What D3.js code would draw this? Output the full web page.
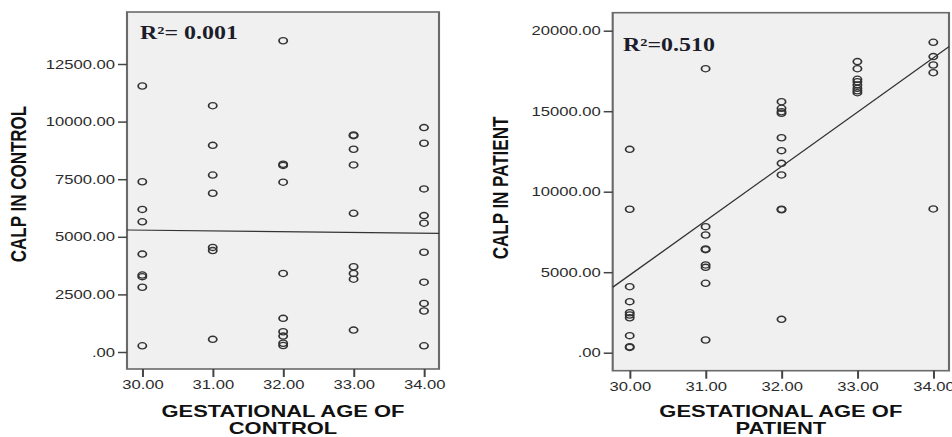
<!DOCTYPE html>
<html>
<head>
<meta charset="utf-8">
<script src="https://cdn.jsdelivr.net/npm/d3@7"></script>
<style>
  html, body { margin: 0; padding: 0; background: #fff; }
  svg { display: block; }
</style>
</head>
<body>
<script>
// gestational age groups (x) and CALP values
var ages = [30, 31, 32, 33, 34];

var controlCalp = [
  [11545, 7390, 6190, 5650, 4250, 3340, 3270, 2810, 270],
  [10690, 8970, 7680, 6890, 4540, 4400, 550],
  [13510, 8150, 8100, 7370, 3410, 1460, 880, 690, 380, 280],
  [9420, 9390, 8800, 8120, 6020, 3700, 3410, 3160, 950],
  [9740, 9060, 7080, 5920, 5590, 4330, 3030, 2110, 1780, 270]
];

var patientCalp = [
  [12630, 8910, 4100, 3170, 2480, 2340, 2170, 1060, 370, 330],
  [17640, 7830, 7310, 6440, 6400, 5450, 5300, 4310, 790],
  [15590, 15180, 14970, 14870, 13350, 12550, 11760, 11040, 8910, 8880, 2070],
  [18080, 17640, 16980, 16830, 16630, 16420, 16270, 16150],
  [19280, 18390, 17870, 17390, 8930]
];

// fitted lines: calp = b0 + b1 * age
var controlFit = [6257, -32.3];
var patientFit = [-96372, 3373];

var controlTicks = [0, 2500, 5000, 7500, 10000, 12500];
var patientTicks = [0, 5000, 10000, 15000, 20000];

var W = 952, H = 437;
var SX = 1.33; // the whole picture is a bit stretched sideways

var svg = d3.select("body").append("svg").attr("width", W).attr("height", H);
var root = svg.append("g").attr("transform", "scale(" + SX + ",1)");

function fmt(d) {
  return d === 0 ? ".00" : d3.format(".2f")(d);
}

function drawPanel(o) {
  var x = d3.scaleLinear().domain([30, 34]).range(o.xRange.map(v => v / SX));
  var y = d3.scaleLinear().domain(o.yDomain).range(o.yRange);

  var f = o.frame.map((v, i) => i % 2 === 0 ? v / SX : v); // [x0, y0, x1, y1]
  var g = root.append("g");

  g.append("rect")
    .attr("x", f[0]).attr("y", f[1])
    .attr("width", f[2] - f[0]).attr("height", f[3] - f[1])
    .attr("fill", "#f0f0f0")
    .attr("stroke", "#6a6a6a")
    .attr("stroke-width", 1.6);

  // y axis
  var ya = g.append("g")
    .attr("transform", "translate(" + f[0] + ",0)")
    .call(d3.axisLeft(y).tickValues(o.yTicks).tickFormat(fmt).tickSize(9 / SX).tickPadding(2.2));
  ya.select(".domain").remove();

  // x axis
  var xa = g.append("g")
    .attr("transform", "translate(0," + f[3] + ")")
    .call(d3.axisBottom(x).tickValues(ages).tickFormat(d => d3.format(".2f")(d)).tickSize(8).tickPadding(3.2));
  xa.select(".domain").remove();

  g.selectAll(".tick line").attr("stroke", "#444").attr("stroke-width", 1.5);
  g.selectAll(".tick text")
    .attr("fill", "#2b2b2b")
    .style("font-family", "'Liberation Sans', Arial, sans-serif")
    .style("font-size", "12.5px");

  // points
  var pts = [];
  o.values.forEach((arr, i) => arr.forEach(v => pts.push([ages[i], v])));
  g.append("g").selectAll("circle")
    .data(pts)
    .enter().append("circle")
      .attr("cx", d => x(d[0]))
      .attr("cy", d => y(d[1]))
      .attr("r", 3.1)
      .attr("fill", "none")
      .attr("stroke", "#333")
      .attr("stroke-width", 1.3);

  // fit line across the frame
  var xa0 = x.invert(f[0]), xa1 = x.invert(f[2]);
  g.append("line")
    .attr("x1", f[0]).attr("y1", y(o.fit[0] + o.fit[1] * xa0))
    .attr("x2", f[2]).attr("y2", y(o.fit[0] + o.fit[1] * xa1))
    .attr("stroke", "#333")
    .attr("stroke-width", 1.2);

  // R squared
  g.append("text")
    .attr("x", o.r2Pos[0] / SX).attr("y", o.r2Pos[1])
    .attr("fill", "#1c1c2a")
    .style("font-family", "'Liberation Serif', 'Times New Roman', serif")
    .style("font-weight", "bold")
    .style("font-size", "18px")
    .text(o.r2);

  // axis titles
  var cx = (f[0] + f[2]) / 2;
  var xt = g.append("text")
    .attr("text-anchor", "middle")
    .attr("fill", "#111")
    .style("font-family", "'Liberation Sans', Arial, sans-serif")
    .style("font-weight", "bold")
    .style("font-size", "16.5px");
  xt.append("tspan").attr("x", cx).attr("y", 417.5).text("GESTATIONAL AGE OF");
  xt.append("tspan").attr("x", cx).attr("y", 434).text(o.xTitle2);

  g.append("text")
    .attr("transform", "translate(" + (o.yTitlePos[0] / SX) + "," + o.yTitlePos[1] + ") rotate(-90)")
    .attr("text-anchor", "middle")
    .attr("fill", "#111")
    .style("font-family", "'Liberation Sans', Arial, sans-serif")
    .style("font-weight", "bold")
    .style("font-size", "17px")
    .text(o.yTitle);
}

drawPanel({
  frame: [127, 12, 439, 369],
  xRange: [142.3, 424],
  yDomain: [0, 12500], yRange: [352, 64],
  yTicks: controlTicks,
  values: controlCalp,
  fit: controlFit,
  r2: "R\u00b2= 0.001", r2Pos: [140, 39],
  xTitle2: "CONTROL",
  yTitle: "CALP IN CONTROL", yTitlePos: [26, 184]
});

drawPanel({
  frame: [612.7, 12.7, 949, 370.7],
  xRange: [629.7, 933.3],
  yDomain: [0, 20000], yRange: [352.7, 30.7],
  yTicks: patientTicks,
  values: patientCalp,
  fit: patientFit,
  r2: "R\u00b2=0.510", r2Pos: [623, 51],
  xTitle2: "PATIENT",
  yTitle: "CALP IN PATIENT", yTitlePos: [508, 188]
});
</script>
</body>
</html>
